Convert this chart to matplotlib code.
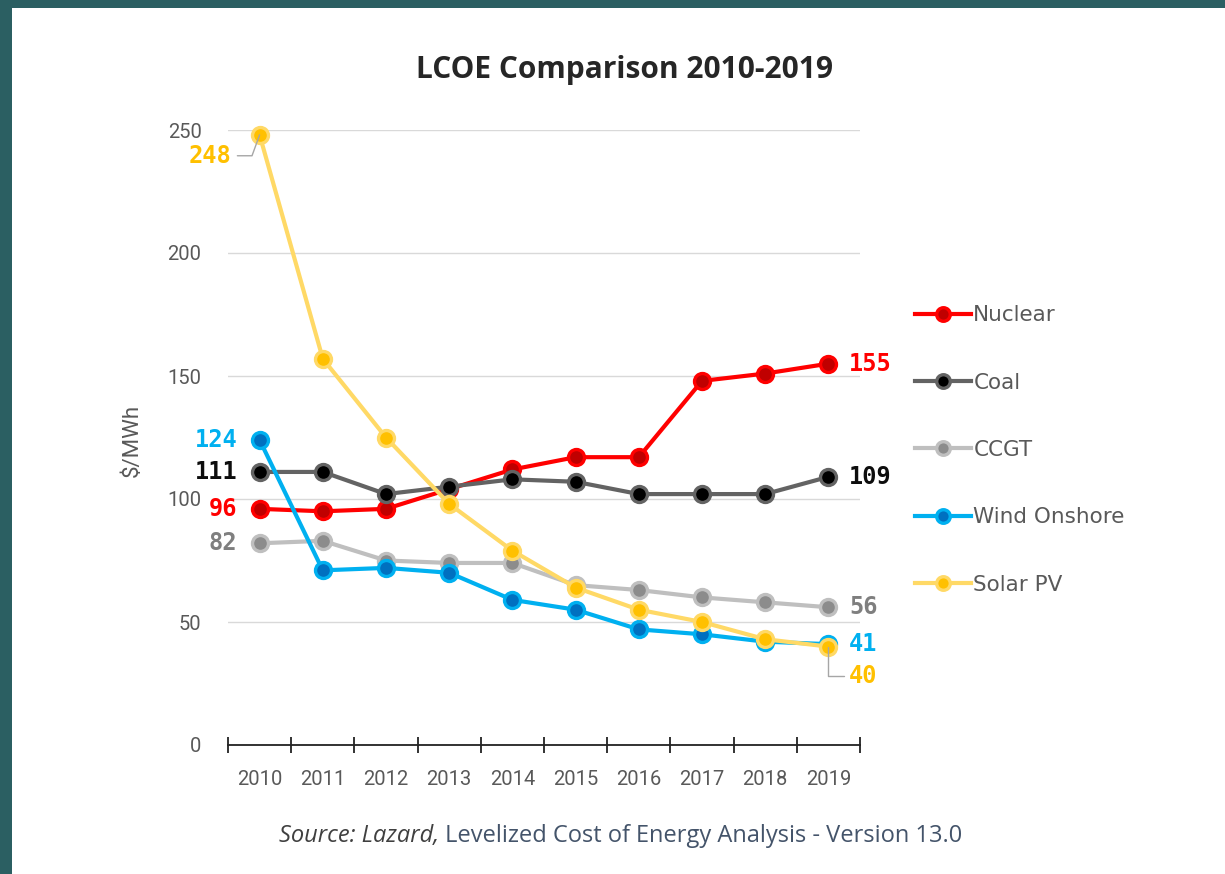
import numpy as np
import matplotlib
matplotlib.use("Agg")
import matplotlib.pyplot as plt
from matplotlib.patches import Rectangle
from matplotlib.ticker import FixedLocator

years = ["2010", "2011", "2012", "2013", "2014", "2015", "2016", "2017", "2018", "2019"]
nuclear = [96, 95, 96, 104, 112, 117, 117, 148, 151, 155]
coal = [111, 111, 102, 105, 108, 107, 102, 102, 102, 109]
ccgt = [82, 83, 75, 74, 74, 65, 63, 60, 58, 56]
wind = [124, 71, 72, 70, 59, 55, 47, 45, 42, 41]
solar = [248, 157, 125, 98, 79, 64, 55, 50, 43, 40]

series = [
    ("Nuclear", nuclear, "#ff0000", "#c00000", "#ff0000"),
    ("Coal", coal, "#636363", "#000000", "#0d0d0d"),
    ("CCGT", ccgt, "#bfbfbf", "#8c8c8c", "#7f7f7f"),
    ("Wind Onshore", wind, "#00b0f0", "#0070c0", "#00b0f0"),
    ("Solar PV", solar, "#ffd966", "#ffc000", "#ffc000"),
]

W, H = 1225, 874
fig = plt.figure(figsize=(W / 100, H / 100), dpi=100, facecolor="#2b5f62")
fig.patches.append(Rectangle((12 / W, 0), 1 - 12 / W, (H - 8) / H,
                             transform=fig.transFigure, facecolor="white",
                             edgecolor="none", zorder=-10))

ax = fig.add_axes([228 / W, (H - 745) / H, (860 - 228) / W, (745 - 130) / H])
ax.set_facecolor("none")

x = np.arange(len(years))
for name, vals, lc, mc, tc in series:
    ax.plot(x, vals, color=lc, lw=3, marker="o", ms=11.5, mfc=mc, mec=lc,
            mew=2.4, label=name, clip_on=False, zorder=3)

ax.set_xlim(-0.5, len(years) - 0.5)
ax.set_ylim(0, 250)
ax.set_yticks([0, 50, 100, 150, 200, 250])
ax.grid(axis="y", color="#d9d9d9", lw=1)
ax.set_axisbelow(True)
for s in ["top", "right", "left"]:
    ax.spines[s].set_visible(False)
ax.spines["bottom"].set_color("#222222")
ax.spines["bottom"].set_linewidth(1.3)
ax.spines["bottom"].set_zorder(4)

tick_font = ["Liberation Sans Narrow", "Roboto"]
ax.set_xticks(x)
ax.set_xticklabels(years, family=tick_font, fontsize=14.5, color="#595959")
ax.xaxis.set_minor_locator(FixedLocator(np.arange(-0.5, len(years), 1)))
ax.tick_params(axis="x", which="major", length=0, pad=18)
ax.tick_params(axis="x", which="minor", direction="inout", length=11.5,
               width=1.3, color="#222222")
ax.tick_params(axis="y", length=0, pad=19, labelsize=14.5, labelcolor="#595959")
for lab in ax.get_yticklabels():
    lab.set_family(tick_font)

ax.set_ylabel("$/MWh", fontsize=16, color="#595959", family=tick_font)
ax.yaxis.set_label_coords(-0.135, 0.495)

fig.text(625 / W, 1 - 70 / H, "LCOE Comparison 2010-2019", ha="center",
         va="center", fontsize=21.5, fontweight="bold", color="#262626",
         family="Open Sans")

# end labels
lab_kw = dict(fontsize=17, fontweight="bold", family="DejaVu Sans Mono",
              va="center", textcoords="offset points")
for name, vals, lc, mc, tc in series:
    if name == "Solar PV":
        continue
    ax.annotate(str(vals[0]), (x[0], vals[0]), xytext=(-16, 0), ha="right",
                color=tc, **lab_kw)
    ax.annotate(str(vals[-1]), (x[-1], vals[-1]), xytext=(15, 0), ha="left",
                color=tc, **lab_kw)

ax.annotate(str(solar[0]), (x[0], solar[0]), xytext=(-20, -15), ha="right",
            color="#ffc000",
            arrowprops=dict(arrowstyle="-", color="#a6a6a6", lw=1,
                            shrinkA=2, shrinkB=0, relpos=(1, 0.5),
                            connectionstyle="angle,angleA=0,angleB=70,rad=0"),
            **lab_kw)
ax.annotate(str(solar[-1]), (x[-1], solar[-1]), xytext=(15, -21), ha="left",
            color="#ffc000",
            arrowprops=dict(arrowstyle="-", color="#a6a6a6", lw=1,
                            shrinkA=2, shrinkB=0, relpos=(0, 0.5),
                            connectionstyle="angle,angleA=0,angleB=90,rad=0"),
            **lab_kw)

fig.legend(loc="center left", bbox_to_anchor=(904 / W, (H - 450) / H),
           frameon=False, fontsize=15.5, labelcolor="#595959",
           handlelength=2.6, handletextpad=0.12, labelspacing=2.2,
           borderpad=0, markerscale=0.85)

t1 = fig.text(279 / W, 1 - 836 / H, "Source: Lazard,", ha="left", va="center",
              fontsize=17, style="italic", color="#404040", family="Open Sans")
ax.annotate(" Levelized Cost of Energy Analysis - Version 13.0", xy=(1, 0.5),
            xycoords=t1, va="center", ha="left", fontsize=17,
            color="#44546a", family="Open Sans", annotation_clip=False)

fig.savefig("out.png", dpi=100, facecolor=fig.get_facecolor())
